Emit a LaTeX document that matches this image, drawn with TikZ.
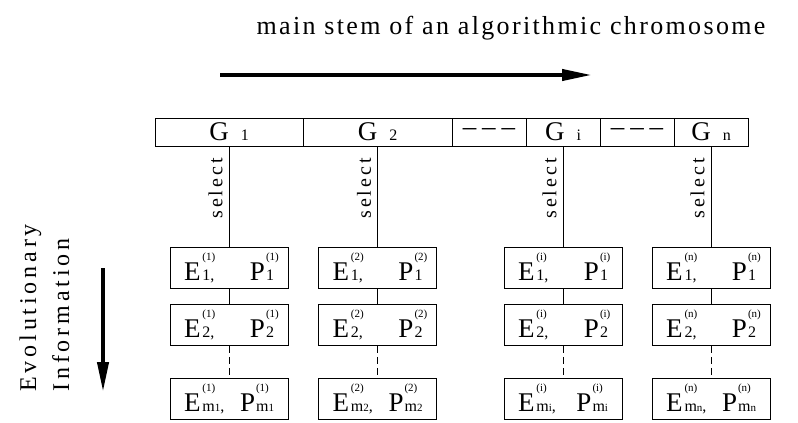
\documentclass[tikz,border=0pt]{standalone}
\usepackage{fontspec}
\setmainfont{Liberation Serif}
\usetikzlibrary{arrows.meta}

\newcommand{\subfs}{\fontsize{16}{16}\selectfont}
\newcommand{\supfs}{\fontsize{11}{11}\selectfont}
\newcommand{\gname}[1]{G\hspace{12pt}{\subfs #1}}
\newcommand{\gdash}{\textendash\hspace{6pt}\textendash\hspace{6pt}\textendash}
\newcommand{\epair}[2]{\makebox[90pt]{E\hspace{2pt}\rlap{\raisebox{20pt}{\supfs(#2)}}{\subfs #1,}\hfill P\hspace{1pt}\rlap{\raisebox{20pt}{\supfs(#2)}}{\subfs #1}}\hspace{8pt}}

\begin{document}
\begin{tikzpicture}[x=1pt,y=-1pt,line width=0.8pt,
  gcell/.style={draw, minimum height=28pt, inner sep=0pt, font=\fontsize{27}{27}\selectfont},
  ebox/.style={draw, minimum width=118pt, minimum height=41pt, inner sep=0pt, font=\fontsize{27}{27}\selectfont},
  sel/.style={pos=.42, rotate=90, anchor=south, inner sep=6pt, font=\fontsize{20}{20}\selectfont\addfontfeature{LetterSpace=15}},
  fat/.style={line width=4pt, -{Triangle[length=30pt,width=11pt]}}]
\useasboundingbox (0,0) rectangle (798,423);

\node[font=\fontsize{26}{26}\selectfont\addfontfeature{LetterSpace=9}] (title) at (511,28) {main stem of an algorithmic chromosome};
\coordinate (stemstart) at (220,75);
\coordinate (stemend) at (592,75);
\draw[fat] (stemstart) -- (stemend);

\node[rotate=90, align=left, anchor=north west, inner sep=0pt, font=\fontsize{24}{33}\selectfont\addfontfeature{LetterSpace=16}] (evo) at (19,392) {Evolutionary\\Information};
\coordinate (infotop) at (103,268);
\coordinate (infobot) at (103,392);
\draw[fat] (infotop) -- (infobot);

\node[gcell, minimum width=148pt] (g1) at (229,132) {\gname{1}};
\node[gcell, minimum width=149pt] (g2) at (377.5,132) {\gname{2}};
\node[gcell, minimum width=74pt] (gdots1) at (489,132) {\gdash};
\node[gcell, minimum width=74pt] (gi) at (563,132) {\gname{i}};
\node[gcell, minimum width=74pt] (gdots2) at (637,132) {\gdash};
\node[gcell, minimum width=74pt] (gn) at (711,132) {\gname{n}};

\node[ebox] (e1r1) at (229,267.5) {\epair{1}{1}};
\node[ebox] (e1r2) at (229,325) {\epair{2}{1}};
\node[ebox] (e1rm) at (229,398.5) {\epair{m{\supfs 1}}{1}};
\node[ebox] (e2r1) at (377.5,267.5) {\epair{1}{2}};
\node[ebox] (e2r2) at (377.5,325) {\epair{2}{2}};
\node[ebox] (e2rm) at (377.5,398.5) {\epair{m{\supfs 2}}{2}};
\node[ebox] (eir1) at (563,267.5) {\epair{1}{i}};
\node[ebox] (eir2) at (563,325) {\epair{2}{i}};
\node[ebox] (eirm) at (563,398.5) {\epair{m{\supfs i}}{i}};
\node[ebox] (enr1) at (711,267.5) {\epair{1}{n}};
\node[ebox] (enr2) at (711,325) {\epair{2}{n}};
\node[ebox] (enrm) at (711,398.5) {\epair{m{\supfs n}}{n}};

\draw (g1) -- node[sel]{select} (e1r1);
\draw (e1r1) -- (e1r2);
\draw[dash pattern=on 7pt off 4pt] (e1r2) -- (e1rm);
\draw (g2) -- node[sel]{select} (e2r1);
\draw (e2r1) -- (e2r2);
\draw[dash pattern=on 7pt off 4pt] (e2r2) -- (e2rm);
\draw (gi) -- node[sel]{select} (eir1);
\draw (eir1) -- (eir2);
\draw[dash pattern=on 7pt off 4pt] (eir2) -- (eirm);
\draw (gn) -- node[sel]{select} (enr1);
\draw (enr1) -- (enr2);
\draw[dash pattern=on 7pt off 4pt] (enr2) -- (enrm);
\end{tikzpicture}
\end{document}
